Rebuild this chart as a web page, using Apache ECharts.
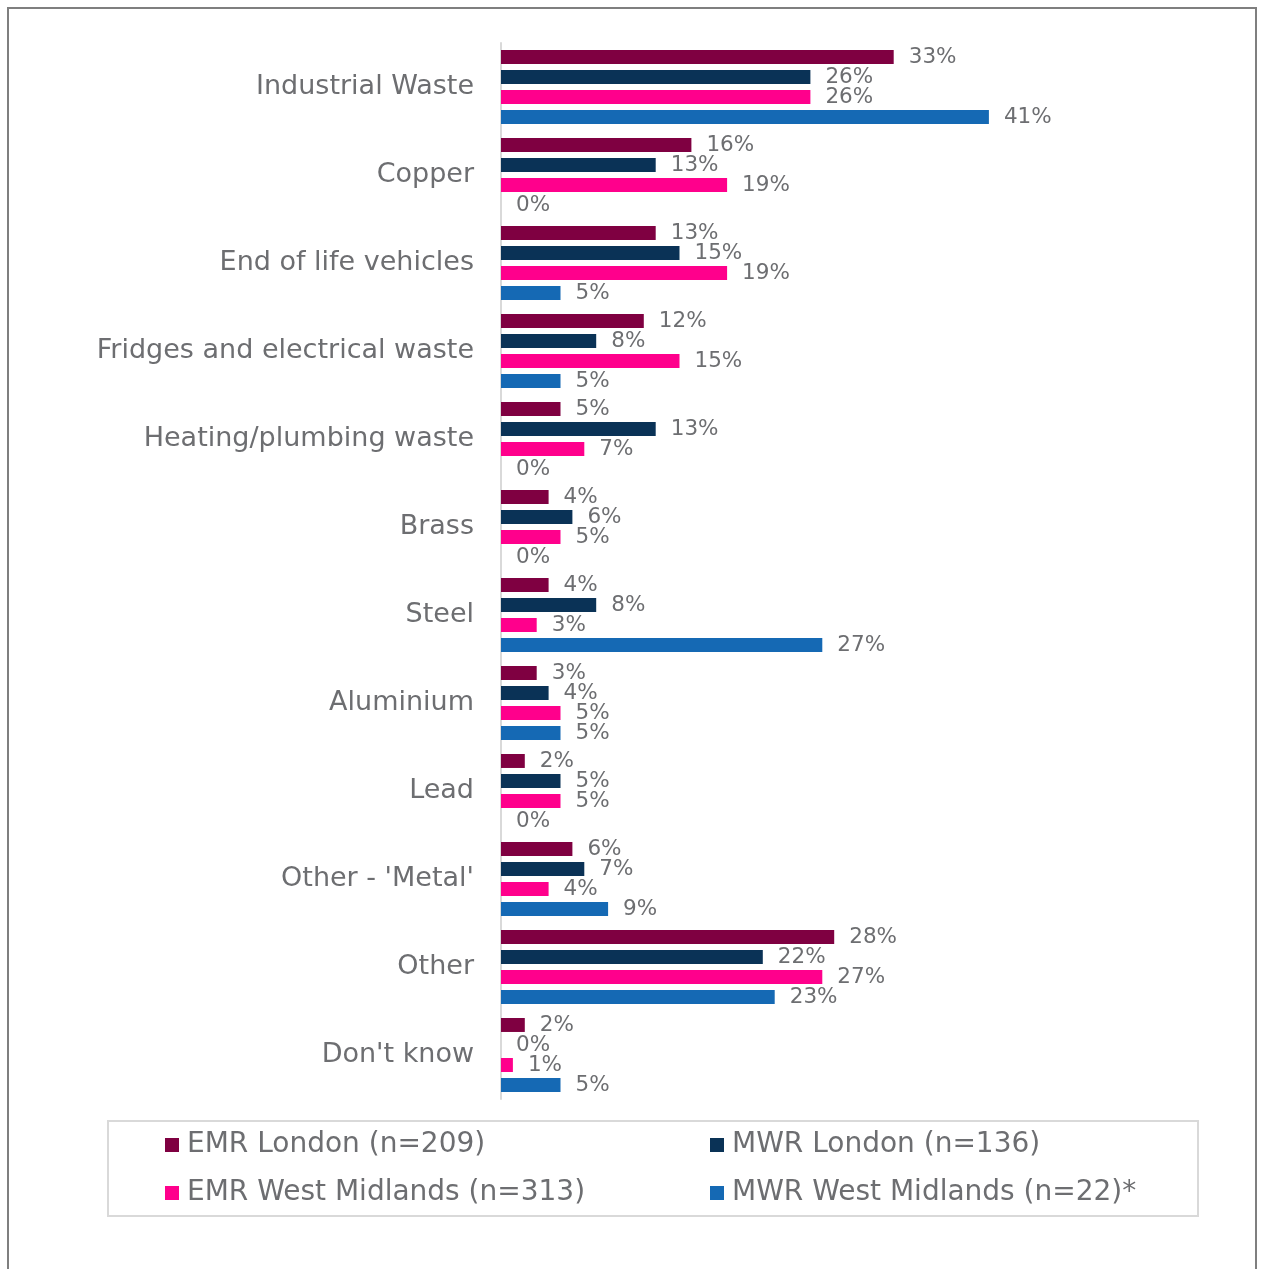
<!DOCTYPE html>
<html>
<head>
<meta charset="utf-8">
<script src="https://cdn.jsdelivr.net/npm/echarts@6/dist/echarts.min.js"></script>
<style>
  html, body { margin: 0; padding: 0; background: #ffffff; }
  #chart { width: 1262px; height: 1269px; }
</style>
</head>
<body>
<div id="chart"></div>
<script>
// Material types handled, share of respondents per site/region
const categories = [
  'Industrial Waste', 'Copper', 'End of life vehicles', 'Fridges and electrical waste',
  'Heating/plumbing waste', 'Brass', 'Steel', 'Aluminium', 'Lead',
  "Other - 'Metal'", 'Other', "Don't know"
];
const seriesNames = [
  'EMR London (n=209)', 'MWR London (n=136)',
  'EMR West Midlands (n=313)', 'MWR West Midlands (n=22)*'
];
const emrLondon = [33, 16, 13, 12, 5, 4, 4, 3, 2, 6, 28, 2];
const mwrLondon = [26, 13, 15, 8, 13, 6, 8, 4, 5, 7, 22, 0];
const emrWestMidlands = [26, 19, 19, 15, 7, 5, 3, 5, 5, 4, 27, 1];
const mwrWestMidlands = [41, 0, 5, 5, 0, 0, 27, 5, 0, 9, 23, 5];

const colors = ['#7F0041', '#0A3256', '#FF008C', '#1569B4'];
const textColor = '#6d6e71';
const fontFamily = '"DejaVu Sans", Verdana, sans-serif';

const values = [emrLondon, mwrLondon, emrWestMidlands, mwrWestMidlands];

const series = values.map((vals, i) => ({
  name: seriesNames[i],
  type: 'bar',
  data: vals,
  barWidth: 14,
  barGap: '43%',
  itemStyle: { color: colors[i] },
  label: {
    show: true,
    position: 'right',
    distance: 15,
    formatter: '{c}%',
    color: textColor,
    fontFamily: fontFamily,
    fontSize: 21.5
  }
}));

// one legend block per entry, laid out as a 2x2 grid
const legendSlots = [
  { left: 165, top: 1129 },
  { left: 710, top: 1129 },
  { left: 165, top: 1177 },
  { left: 710, top: 1177 }
];
const legends = seriesNames.map((name, i) => ({
  data: [name],
  left: legendSlots[i].left,
  top: legendSlots[i].top,
  padding: 0,
  itemWidth: 14,
  itemHeight: 14,
  icon: 'rect',
  selectedMode: false,
  textStyle: {
    color: textColor,
    fontFamily: fontFamily,
    fontSize: 28,
    lineHeight: 32,
    padding: [0, 0, 0, 3]
  }
}));

const chart = echarts.init(document.getElementById('chart'), null, { renderer: 'canvas' });
chart.setOption({
  animation: false,
  backgroundColor: '#ffffff',
  color: colors,
  grid: { left: 501, top: 43, height: 1056, width: 595, containLabel: false },
  xAxis: {
    type: 'value',
    min: 0,
    max: 50,
    show: false
  },
  yAxis: {
    type: 'category',
    data: categories,
    inverse: true,
    axisLine: { show: true, lineStyle: { color: '#d9d9d9', width: 2 } },
    axisTick: { show: false },
    axisLabel: {
      margin: 27,
      color: textColor,
      fontFamily: fontFamily,
      fontSize: 27
    }
  },
  legend: legends,
  graphic: [
    {
      type: 'rect',
      shape: { x: 8, y: 8, width: 1248, height: 1290 },
      style: { fill: 'none', stroke: '#7f7f7f', lineWidth: 2 },
      silent: true
    },
    {
      type: 'rect',
      shape: { x: 108, y: 1121, width: 1090, height: 95 },
      style: { fill: 'none', stroke: '#d9d9d9', lineWidth: 2 },
      silent: true
    }
  ],
  series: series
});
</script>
</body>
</html>
